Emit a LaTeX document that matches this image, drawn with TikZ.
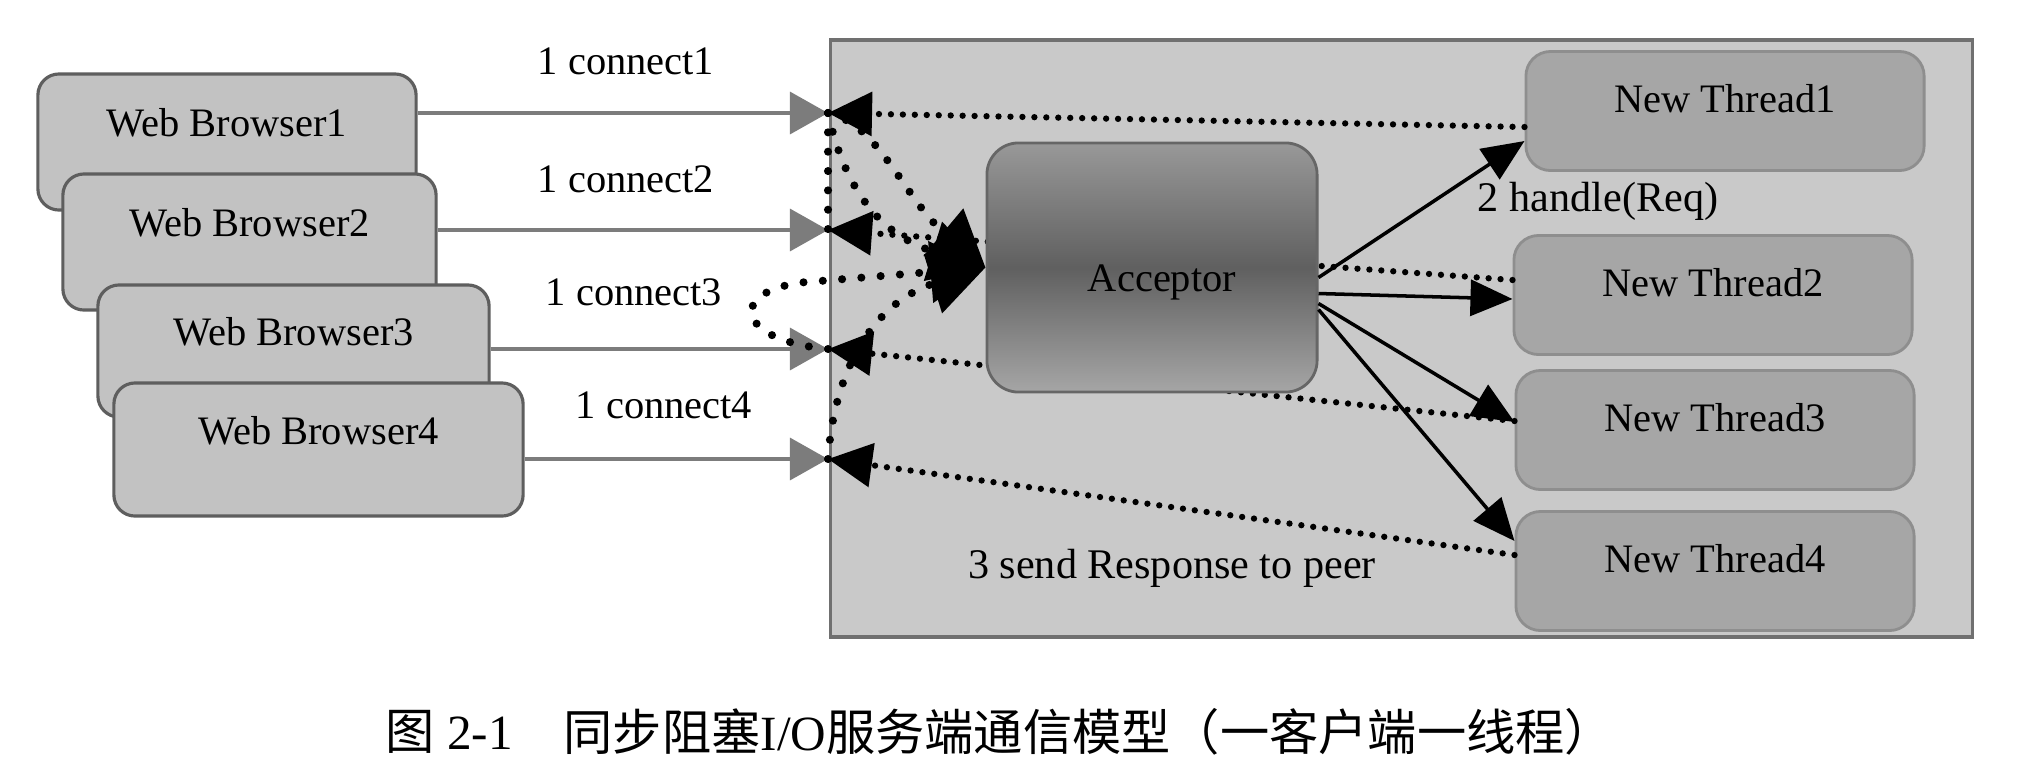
\documentclass[tikz,border=0pt]{standalone}
\usepackage{fontspec}
\setmainfont{Liberation Serif}
\newfontfamily\cjk{Noto Sans CJK SC}
\usetikzlibrary{arrows.meta}

\definecolor{browserfill}{HTML}{C2C2C2}
\definecolor{browseredge}{HTML}{5E5E5E}
\definecolor{serverfill}{HTML}{C9C9C9}
\definecolor{serveredge}{HTML}{707070}
\definecolor{threadfill}{HTML}{A6A6A6}
\definecolor{threadedge}{HTML}{8E8E8E}
\definecolor{conngray}{HTML}{7C7C7C}

\tikzset{
  browser/.style={draw=browseredge, line width=0.9pt, fill=browserfill, rounded corners=6pt, inner sep=0pt},
  server/.style={draw=serveredge, line width=1pt, fill=serverfill, inner sep=0pt},
  thread/.style={draw=threadedge, line width=0.8pt, fill=threadfill, rounded corners=7pt, inner sep=0pt,
    minimum width=3.98cm, minimum height=1.19cm},
  acceptor/.style={draw=gray!80!black, line width=0.8pt, rounded corners=9pt, inner sep=0pt,
    top color=gray!85!black!70, bottom color=gray!70, middle color=gray!75!black},
  lbl/.style={inner sep=0pt, font=\fontsize{11.5}{14}\selectfont},
  conn/.style={conngray, line width=0.9pt, -{Triangle[length=0.38cm, width=0.42cm]}},
  reply/.style={black, line width=1.8pt, line cap=round, dash pattern=on 0pt off 3.4pt,
    -{Triangle[length=0.44cm, width=0.43cm]}},
  handle/.style={black, line width=1pt, -{Triangle[length=0.42cm, width=0.36cm]}},
  link/.style={black, line width=2.3pt, line cap=round, dash pattern=on 0pt off 5.5pt,
    -{Triangle[length=0.55cm, width=0.6cm]}}
}

\begin{document}
\begin{tikzpicture}[x=0.01cm, y=-0.01cm]
\useasboundingbox (0,0) rectangle (2022,778);

% browsers
\foreach \i/\x/\y/\w/\h in {1/227/142/3.78/1.36, 2/249.5/242/3.73/1.36, 3/293.5/351/3.91/1.32, 4/318.5/449.5/4.09/1.33}{
  \node[browser, minimum width=\w cm, minimum height=\h cm] (b\i) at (\x,\y) {};
  \node[lbl] (bt\i) at (\x,\y-19) {Web Browser\i};
}

% server side
\node[server, minimum width=11.41cm, minimum height=5.97cm] (srv) at (1401.5,338.5) {};

\foreach \i/\x/\y in {1/1725/111, 2/1713/295, 3/1715/430, 4/1715/571}{
  \node[thread] (t\i) at (\x,\y) {};
  \node[lbl] (tt\i) at (\x,\y-12) {New Thread\i};
}

\foreach \i/\y in {1/113, 2/230, 3/349, 4/459}{\coordinate (p\i) at (828,\y);}

\foreach \i in {1,...,4}{\draw[conn] (b\i.east |- p\i) -- (p\i);}

\foreach \i/\s in {1/-0.16, 2/0.15, 3/0.09, 4/0.16}{\draw[reply] ([yshift=\s cm]t\i.west) -- (p\i);}

\node[acceptor, minimum width=3.3cm, minimum height=2.49cm] (acc) at (1152,267.5) {};
\node[lbl] (acct) at (1162,282) {Acceptor};

\foreach \i/\s/\e in {1/-0.1/-0.3, 2/-0.26/-0.04, 3/-0.36/0.08, 4/-0.42/0.3}{
  \draw[handle] ([yshift=\s cm]acc.east) -- ([yshift=\e cm]t\i.west);
}

% connections handed to the acceptor
\draw[link] (p1) .. controls (880,125) and (905,200) .. (acc.west);
\draw[link] (p1) .. controls (845,190) and (880,235) .. (acc.west);
\draw[link, -] (p1) -- (p2);
\draw[link] (p3) .. controls (730,340) and (725,285) .. (820,281) -- (acc.west);
\draw[link] (p4) .. controls (835,360) and (880,300) .. (acc.west);

% labels
\foreach \i/\x/\y in {1/626/61, 2/626/179, 3/634/292, 4/664/405}{\node[lbl] (c\i) at (\x,\y) {1 connect\i};}
\node[lbl, font=\fontsize{12}{14}\selectfont] (hd) at (1598,201) {2 handle(Req)};
\node[lbl, font=\fontsize{12}{14}\selectfont] (snd) at (1172,568) {3 send Response to peer};

% caption
\node[anchor=west, inner sep=0pt, font=\fontsize{14}{16}\selectfont] (fig) at (385,732) {{\cjk 图} 2-1};
\node[anchor=west, inner sep=0pt, font=\fontsize{14}{16}\selectfont] (cap) at (563,732) {{\cjk 同步阻塞}I/O{\cjk 服务端通信模型（一客户端一线程）}};

\end{tikzpicture}
\end{document}
